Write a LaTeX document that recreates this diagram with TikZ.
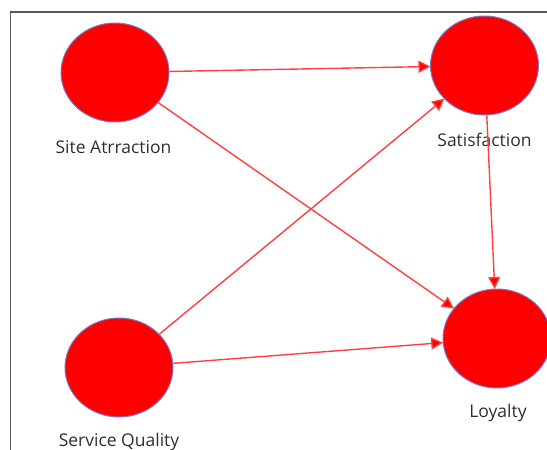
\documentclass[tikz,border=0pt]{standalone}
\usepackage{fontspec}
\setmainfont{Open Sans}
\usetikzlibrary{shapes.geometric,arrows.meta}
\definecolor{txtgray}{HTML}{2E2E2E}
\definecolor{rimblue}{HTML}{7A7AC8}
\definecolor{linered}{HTML}{FF4040}
\tikzset{
  construct/.style={ellipse, fill=red, draw=rimblue, line width=1pt, minimum width=108pt, minimum height=99pt, inner sep=0pt},
  lbl/.style={font=\fontsize{17.5}{20}\selectfont, text=txtgray, inner sep=0pt},
  path/.style={draw=linered, line width=1.4pt, -{Triangle[length=12pt,width=12pt,fill=red]}, shorten >=-0.5pt},
  frame/.style={draw=black!65, line width=1.8pt}
}
\begin{document}
\begin{tikzpicture}[x=1pt,y=-1pt]
\useasboundingbox (0,0) rectangle (547,450);
\draw[frame] (10.5,460) -- (10.5,11.7) -- (560,11.7);
\node[construct] (sa) at (115,72.5) {};
\node[construct] (sat) at (484.5,65.5) {};
\node[construct] (sq) at (119,367.5) {};
\node[construct] (loy) at (497,338.5) {};
\node[lbl] (lsa) at (113.5,147) {Site Atrraction};
\node[lbl] (lsat) at (484.5,140) {Satisfaction};
\node[lbl] (lsq) at (119,442) {Service Quality};
\node[lbl] (lloy) at (498,413) {Loyalty};
\draw[path] (sa) -- (sat);
\draw[path] (sa) -- (loy);
\draw[path] (sq) -- (sat);
\draw[path] (sq) -- (loy);
\draw[path] (sat) -- (loy);
\end{tikzpicture}
\end{document}
